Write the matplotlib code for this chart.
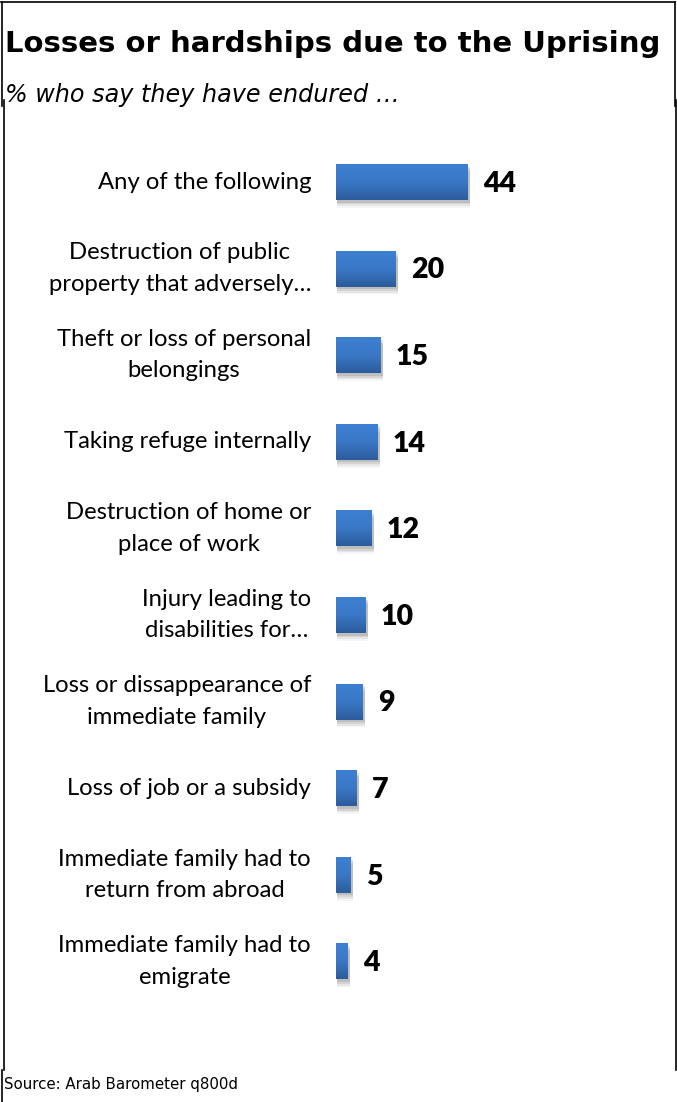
import numpy as np
import matplotlib.pyplot as plt
from matplotlib.patches import Rectangle
from matplotlib.colors import LinearSegmentedColormap
from matplotlib.lines import Line2D

categories = [
    "Any of the following",
    "Destruction of public\nproperty that adversely…",
    "Theft or loss of personal\nbelongings",
    "Taking refuge internally",
    "Destruction of home or\nplace of work",
    "Injury leading to\ndisabilities for…",
    "Loss or dissappearance of\nimmediate family",
    "Loss of job or a subsidy",
    "Immediate family had to\nreturn from abroad",
    "Immediate family had to\nemigrate",
]
values = [44, 20, 15, 14, 12, 10, 9, 7, 5, 4]

W, H = 677, 1102
fig = plt.figure(figsize=(W / 100, H / 100), dpi=100)

# frame lines around header and body
def vline(x, y0, y1):
    fig.add_artist(Line2D([x / W, x / W], [1 - y0 / H, 1 - y1 / H], color="black", lw=1.2))

def hline(y, x0, x1):
    fig.add_artist(Line2D([x0 / W, x1 / W], [1 - y / H, 1 - y / H], color="black", lw=1.2))

hline(2, 1, 675)
vline(1.5, 2, 106)
vline(675, 2, 106)
vline(3.5, 100, 1070)
vline(675.5, 100, 1070)
vline(2, 1070, 1102)

fig.text(5 / W, 1 - 44 / H, "Losses or hardships due to the Uprising",
         fontsize=21, fontweight="bold", family="DejaVu Sans", va="center", ha="left")
fig.text(5 / W, 1 - 95 / H, "% who say they have endured …",
         fontsize=17.2, style="italic", family="DejaVu Sans", va="center", ha="left")
fig.text(4 / W, 1 - 1085 / H, "Source: Arab Barometer q800d",
         fontsize=10.8, family="DejaVu Sans", va="center", ha="left")

# axes: 3 px per percentage point, ~86.6 px per row
step = 86.6
top = 182 - step / 2
bottom = 961.5 + step / 2
ax = fig.add_axes([336 / W, 1 - bottom / H, 300 / W, (bottom - top) / H])
ax.axis("off")

grad = LinearSegmentedColormap.from_list("barblue", ["#3d80d2", "#3a78c6", "#2c5c9c"])
bar_h = 0.415
y = np.arange(len(values))
for i, v in enumerate(values):
    # soft shadow under each bar
    for k, a in enumerate([0.10, 0.08, 0.06, 0.04]):
        ax.add_patch(Rectangle((0.2, y[i] - bar_h / 2 + 0.03 + k * 0.02), v + 0.3, bar_h,
                               color="black", alpha=a, lw=0, zorder=1))
    ax.imshow(np.linspace(0, 1, 50).reshape(-1, 1), cmap=grad, aspect="auto",
              extent=(0, v, y[i] + bar_h / 2, y[i] - bar_h / 2), origin="upper", zorder=2)
    ax.text(v + 5, y[i] + 0.02, str(v), fontsize=20.5, fontweight="heavy", family="Lato",
            va="center", ha="left", zorder=3)
    ax.text(-8.3, y[i], categories[i], fontsize=17.2, family="Lato", va="center",
            ha="right", multialignment="center", linespacing=1.62)
ax.set_xlim(0, 100)
ax.set_ylim(len(values) - 0.5, -0.5)

fig.savefig("out.png", dpi=100)
